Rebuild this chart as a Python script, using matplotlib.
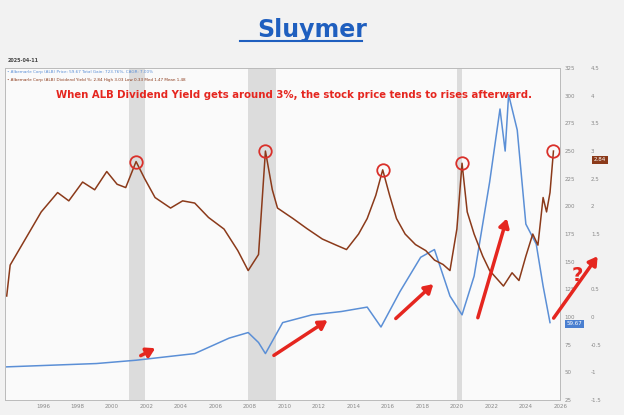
import matplotlib.pyplot as plt
from matplotlib.patches import FancyArrowPatch

# ALB dividend yield (%) by year
yield_years = [1993.9, 1994.1, 1995.15, 1995.9, 1996.85, 1997.5, 1998.3, 1999.0, 1999.7, 2000.3, 2000.8,
               2001.4, 2001.9, 2002.5, 2003.4, 2004.1, 2004.8, 2005.6, 2006.5, 2007.3, 2007.9, 2008.5,
               2008.9, 2009.3, 2009.6, 2010.5, 2011.3, 2012.2, 2013.0, 2013.6, 2014.3, 2014.8, 2015.3,
               2015.7, 2016.1, 2016.5, 2017.0, 2017.6, 2018.2, 2018.7, 2019.2, 2019.6, 2020.0, 2020.3,
               2020.6, 2021.0, 2021.5, 2021.9, 2022.3, 2022.7, 2023.2, 2023.6, 2024.0, 2024.4, 2024.7,
               2025.0, 2025.2, 2025.4, 2025.6]
yield_vals = [0.38, 0.94, 1.5, 1.9, 2.25, 2.1, 2.44, 2.3, 2.63, 2.4, 2.34,
              2.81, 2.5, 2.16, 1.97, 2.1, 2.06, 1.8, 1.59, 1.2, 0.84, 1.13,
              3.0, 2.3, 1.97, 1.78, 1.6, 1.41, 1.3, 1.22, 1.5, 1.78, 2.2,
              2.66, 2.2, 1.78, 1.5, 1.31, 1.2, 1.03, 0.95, 0.84, 1.59, 2.78,
              1.9, 1.5, 1.1, 0.84, 0.7, 0.56, 0.8, 0.66, 1.1, 1.5, 1.3,
              2.16, 1.9, 2.25, 3.0]

# ALB price by year
price_years = [1993.9, 1999.1, 2001.4, 2004.8, 2006.8, 2007.9, 2008.5, 2008.9, 2009.9, 2011.6, 2013.3,
               2014.8, 2015.6, 2016.7, 2017.9, 2018.7, 2019.6, 2020.3, 2021.0, 2021.9, 2022.5, 2022.8,
               2023.0, 2023.5, 2024.0, 2024.6, 2025.0, 2025.4]
price_vals = [55, 58, 61, 67, 81, 86, 77, 67, 95, 102, 105,
              109, 91, 123, 154, 161, 119, 102, 137, 222, 288, 250,
              301, 269, 184, 166, 128, 95]

price_ticks = [325, 300, 275, 250, 225, 200, 175, 150, 125, 100, 75, 50, 25]
yield_ticks = [4.5, 4, 3.5, 3, 2.5, 2, 1.5, 1, 0.5, 0, -0.5, -1, -1.5]
year_ticks = list(range(1996, 2027, 2))
recessions = [(2001.0, 2001.9), (2007.9, 2009.5), (2020.0, 2020.3)]
peak_years = [2001.4, 2008.9, 2015.7, 2020.3, 2025.6]
peak_yields = [2.81, 3.0, 2.66, 2.78, 3.0]

fig = plt.figure(figsize=(6.24, 4.15), dpi=100)
fig.patch.set_facecolor("#f2f2f2")
ax = fig.add_axes([0.008, 0.036, 0.89, 0.80])
ax.set_facecolor("#fafafa")
ax2 = ax.twinx()

for a, b in recessions:
    ax.axvspan(a, b, color="#d0d0d0", alpha=0.7, lw=0)

ax.plot(price_years, price_vals, color="#5b8fd6", lw=1.1)
ax2.plot(yield_years, yield_vals, color="#8b3a1a", lw=1.1)
ax2.plot(peak_years, peak_yields, "o", ms=9, mfc="none", mec="#d9302a", mew=1.3)

ax.set_xlim(1993.8, 2025.7)
ax.set_ylim(325 - 320 * 0.9375, 325)
ax2.set_ylim(4.5 - 320 / 53.33, 4.5)
ax.set_xticks(year_ticks)
ax.set_xticklabels([str(y) for y in year_ticks], fontsize=4, color="#888")
ax.yaxis.tick_right()
ax.set_yticks(price_ticks)
ax.set_yticklabels([str(t) for t in price_ticks], fontsize=4, color="#888")
ax2.set_yticks(yield_ticks)
ax2.set_yticklabels([str(t) for t in yield_ticks], fontsize=4, color="#888")
ax2.tick_params(axis="y", pad=22, length=0)
ax.tick_params(length=0, pad=3)
for a in (ax, ax2):
    for s in a.spines.values():
        s.set_color("#bbbbbb")
        s.set_linewidth(0.6)

# value tags on the right axis
ax2.text(1.06, 2.84, "2.84", transform=ax2.get_yaxis_transform(), fontsize=4, color="white",
         va="center", bbox=dict(boxstyle="square,pad=0.3", fc="#8b3a1a", ec="none"))
ax2.text(1.012, 0.23, "59.67", transform=ax2.transAxes, fontsize=4, color="white",
         va="center", bbox=dict(boxstyle="square,pad=0.3", fc="#4a7fd0", ec="none"))

# red arrows (axes fraction coordinates)
arrows = [((0.24, 0.13), (0.275, 0.16)), ((0.48, 0.13), (0.585, 0.245)),
          ((0.70, 0.24), (0.775, 0.355)), ((0.85, 0.24), (0.905, 0.555)),
          ((0.985, 0.24), (1.07, 0.44))]
for s, e in arrows:
    ax2.add_patch(FancyArrowPatch(s, e, transform=ax2.transAxes, arrowstyle="-|>,head_length=5,head_width=3",
                                  color="#e5261f", lw=2.5, clip_on=False, zorder=5))
ax2.text(1.02, 0.36, "?", transform=ax2.transAxes, color="#e5261f", fontsize=14,
         fontweight="bold", clip_on=False, zorder=6)

ax2.text(0.52, 0.91, "When ALB Dividend Yield gets around 3%, the stock price tends to rises afterward.",
         transform=ax2.transAxes, ha="center", color="#e5261f", fontsize=7.3, fontweight="bold")

fig.text(0.5, 0.91, "Sluymer", ha="center", color="#1f5fbf", fontsize=17, fontweight="bold")
fig.add_artist(plt.Line2D([0.385, 0.58], [0.9, 0.9], color="#1f5fbf", lw=1.5))
fig.text(0.012, 0.85, "2025-04-11", fontsize=3.5, color="#444", fontweight="bold")
fig.text(0.012, 0.825, "\u2022 Albemarle Corp (ALB) Price: 59.67 Total Gain: 723.76%, CAGR: 7.00%",
         fontsize=3, color="#5b8fd6")
fig.text(0.012, 0.805, "\u2022 Albemarle Corp (ALB) Dividend Yield %: 2.84 High 3.03 Low 0.33 Med 1.47 Mean 1.48",
         fontsize=3, color="#8b3a1a")

fig.savefig("out.png", dpi=100, facecolor=fig.get_facecolor())
